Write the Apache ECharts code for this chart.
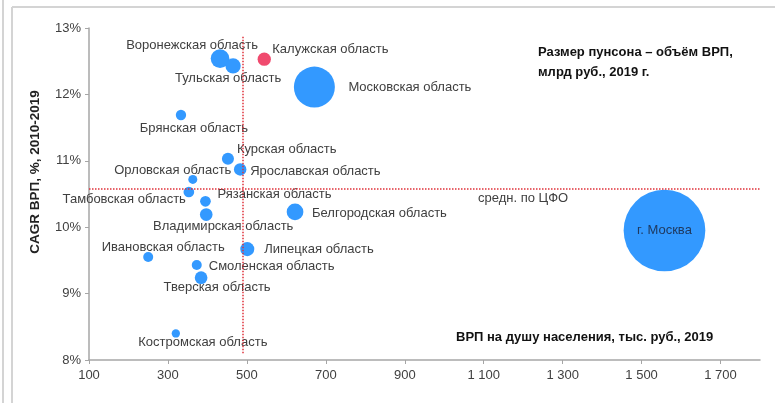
<!DOCTYPE html>
<html>
<head>
<meta charset="utf-8">
<script src="https://cdn.jsdelivr.net/npm/echarts@6/dist/echarts.min.js"></script>
<style>
html,body{margin:0;padding:0;background:#fff;}
#chart{width:775px;height:403px;}
</style>
</head>
<body>
<div id="chart"></div>
<script>
// ---- data ----
const regions = [
  'Воронежская область','Тульская область','Калужская область','Московская область',
  'Брянская область','Курская область','Ярославская область','Орловская область',
  'Тамбовская область','Рязанская область','Владимирская область','Белгородская область',
  'Ивановская область','Липецкая область','Смоленская область','Тверская область',
  'Костромская область','г. Москва'
];
// ВРП на душу населения, тыс. руб., 2019
const grpPerCapita = [432, 465, 544, 671, 333, 452, 483, 363, 353, 395, 397, 622, 250, 501, 373, 384, 320, 1558];
// CAGR ВРП, %, 2010-2019
const cagrGrp = [12.54, 12.43, 12.53, 12.11, 11.69, 11.03, 10.87, 10.72, 10.53, 10.39, 10.19, 10.23, 9.55, 9.67, 9.43, 9.24, 8.40, 9.95];
// объём ВРП, млрд руб., 2019 (bubble size)
const grpVolume = [1010, 680, 510, 4860, 310, 420, 450, 235, 330, 330, 465, 810, 290, 570, 290, 465, 200, 19300];
const highlighted = ['Калужская область'];
// average for ЦФО (reference lines)
const avgPerCapita = 490;
const avgCagr = 10.58;
const avgLineSpanY = [8.1, 12.88];
const xTicks = {min: 100, max: 1800, step: 200};
const yTicks = {min: 8, max: 13, step: 1};

// ---- label placement (style, not data): [align, dx, dy] from bubble centre ----
const labelPlace = {
  'Воронежская область': ['center', -28, -13],
  'Тульская область': ['center', -5, 13],
  'Калужская область': ['left', 8, -10],
  'Московская область': ['left', 34, 0],
  'Брянская область': ['center', 13, 13],
  'Курская область': ['left', 9, -9],
  'Ярославская область': ['left', 10, 2],
  'Орловская область': ['center', -20, -9],
  'Тамбовская область': ['right', -3, 7],
  'Рязанская область': ['left', 12, -7],
  'Владимирская область': ['center', 17, 12],
  'Белгородская область': ['left', 17, 1],
  'Ивановская область': ['center', 15, -10],
  'Липецкая область': ['left', 17, 0],
  'Смоленская область': ['left', 12, 1],
  'Тверская область': ['center', 16, 10],
  'Костромская область': ['center', 27, 9],
  'г. Москва': ['center', 0, 0]
};

const FONT = "'Liberation Sans',Arial,sans-serif";
const FS = 13;
const BLUE = '#3399FF';
const RED = '#F04A6E';
const TXT = '#404040';

const seriesData = regions.map((name, i) => {
  const isCity = name === 'г. Москва';
  return {
    name: name,
    value: [grpPerCapita[i], cagrGrp[i], grpVolume[i]],
    itemStyle: {color: highlighted.includes(name) ? RED : BLUE},
    label: {
      show: true,
      position: 'inside',
      formatter: name,
      color: isCity ? '#1F3A60' : TXT,
      fontFamily: FONT,
      fontSize: FS
    }
  };
});

const chart = echarts.init(document.getElementById('chart'), null, {renderer: 'canvas'});
chart.setOption({
  animation: false,
  backgroundColor: '#fff',
  grid: {left: 89, right: 15, top: 28, bottom: 43},
  xAxis: {
    type: 'value',
    min: xTicks.min, max: xTicks.max, interval: xTicks.step,
    axisLine: {show: true, lineStyle: {color: '#A6A6A6', width: 1.5}},
    axisTick: {show: true, length: 4, inside: false, lineStyle: {color: '#A6A6A6'}},
    splitLine: {show: false},
    axisLabel: {
      color: TXT, fontFamily: FONT, fontSize: FS, margin: 9, showMaxLabel: false,
      formatter: v => v >= 1000 ? (Math.floor(v / 1000) + ' ' + String(v % 1000).padStart(3, '0')) : String(v)
    }
  },
  yAxis: {
    type: 'value',
    min: yTicks.min, max: yTicks.max, interval: yTicks.step,
    axisLine: {show: true, lineStyle: {color: '#A6A6A6', width: 1.5}},
    axisTick: {show: true, length: 4, lineStyle: {color: '#A6A6A6'}},
    splitLine: {show: false},
    axisLabel: {color: TXT, fontFamily: FONT, fontSize: FS, margin: 8, formatter: v => v + '%'}
  },
  series: [{
    type: 'scatter',
    data: seriesData,
    symbol: 'circle',
    symbolSize: v => 0.588 * Math.sqrt(v[2]),
    itemStyle: {opacity: 1},
    labelLayout: function (params) {
      const p = labelPlace[regions[params.dataIndex]];
      const r = params.rect;
      return {
        x: r.x + r.width / 2 + p[1],
        y: r.y + r.height / 2 + p[2],
        align: p[0],
        verticalAlign: 'middle',
        hideOverlap: false
      };
    },
    markLine: {
      silent: true,
      symbol: ['none', 'none'],
      z: 10,
      lineStyle: {color: '#E0303A', type: [1.5, 1.5], width: 1.5},
      label: {show: false},
      data: [
        [{coord: [avgPerCapita, avgLineSpanY[0]]}, {coord: [avgPerCapita, avgLineSpanY[1]]}],
        [{coord: [xTicks.min, avgCagr]}, {coord: [xTicks.max, avgCagr]}]
      ]
    }
  }],
  graphic: [
    {type: 'line', shape: {x1: 12, y1: 7, x2: 775, y2: 7}, style: {stroke: '#D4D4D4', lineWidth: 2}, silent: true},
    {type: 'line', shape: {x1: 12, y1: 7, x2: 12, y2: 403}, style: {stroke: '#D4D4D4', lineWidth: 2}, silent: true},
    {type: 'line', shape: {x1: 3, y1: 0, x2: 3, y2: 403}, style: {stroke: '#D4D4D4', lineWidth: 2}, silent: true},
    {type: 'text', x: 35, y: 172, rotation: Math.PI / 2,
      style: {text: 'CAGR ВРП, %, 2010-2019', font: 'bold 13.5px ' + FONT, fill: '#222', textAlign: 'center', textVerticalAlign: 'middle'}},
    {type: 'text', x: 538, y: 52,
      style: {text: 'Размер пунсона – объём ВРП,', font: 'bold 13px ' + FONT, fill: '#111', textAlign: 'left', textVerticalAlign: 'middle'}},
    {type: 'text', x: 538, y: 72,
      style: {text: 'млрд руб., 2019 г.', font: 'bold 13px ' + FONT, fill: '#111', textAlign: 'left', textVerticalAlign: 'middle'}},
    {type: 'text', x: 456, y: 337,
      style: {text: 'ВРП на душу населения, тыс. руб., 2019', font: 'bold 13px ' + FONT, fill: '#111', textAlign: 'left', textVerticalAlign: 'middle'}},
    {type: 'text', x: 478, y: 198,
      style: {text: 'средн. по ЦФО', font: '13px ' + FONT, fill: TXT, textAlign: 'left', textVerticalAlign: 'middle'}}
  ]
});
</script>
</body>
</html>
